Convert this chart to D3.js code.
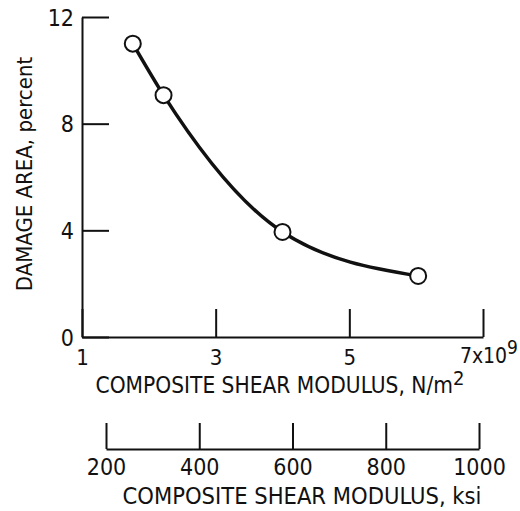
<!DOCTYPE html>
<html>
<head>
<meta charset="utf-8">
<script src="https://cdn.jsdelivr.net/npm/d3@7"></script>
<style>
  body { margin: 0; background: #fff; }
  svg { display: block; }
  text { font-family: "Liberation Sans Narrow", "DejaVu Sans Condensed", sans-serif; fill: #111; }
</style>
</head>
<body>
<div class="chart"></div>
<script>
// data
const modulus = [1.76, 2.22, 4.0, 6.03];      // composite shear modulus, 10^9 N/m^2
const damage = [11.0, 9.07, 3.94, 2.29];      // damage area, percent
const xTicks = [1, 3, 5, 7];
const yTicks = [0, 4, 8, 12];
const ksiTicks = [200, 400, 600, 800, 1000];

const data = modulus.map((m, i) => ({x: m, y: damage[i]}));

const width = 520, height = 511;
const ink = "#111";

const xScale = d3.scaleLinear().domain([1, 7]).range([82, 483]);
const yScale = d3.scaleLinear().domain([0, 12]).range([337, 17]);
const ksiScale = d3.scaleLinear().domain([200, 1000]).range([106, 479]);

const svg = d3.select(".chart").append("svg")
    .attr("width", width)
    .attr("height", height);

// y axis: ticks point into the plot
const yAxis = d3.axisRight(yScale)
    .tickValues(yTicks)
    .tickSize(27)
    .tickSizeOuter(0)
    .tickPadding(-35);
svg.append("g")
    .attr("transform", "translate(" + xScale(1) + ",0)")
    .call(yAxis)
    .call(g => g.selectAll("line, path").attr("stroke", ink).attr("stroke-width", 2))
    .call(g => g.selectAll("text").attr("text-anchor", "end").attr("font-size", 23).attr("dy", "0.36em"));

// x axis (N/m^2): ticks point up
const xAxis = d3.axisBottom(xScale)
    .tickValues(xTicks)
    .tickSize(-28)
    .tickSizeOuter(0)
    .tickFormat(d => d);
const xg = svg.append("g")
    .attr("transform", "translate(0," + yScale(0) + ")")
    .call(xAxis)
    .call(g => g.selectAll("line, path").attr("stroke", ink).attr("stroke-width", 2))
    .call(g => g.selectAll(".tick text")
        .attr("font-size", 22)
        .attr("y", 0)
        .attr("dy", "1.25em"));

// "7x10^9" on the last tick: "7x10" centred on the tick, exponent hangs right
const lastTick = xg.selectAll(".tick text").filter(d => d === 7);
lastTick.text(null).attr("text-anchor", "start").attr("font-size", 21);
const mant = lastTick.append("tspan").text("7x10");
lastTick.append("tspan").attr("dy", "-0.5em").attr("font-size", 19).text("9");
lastTick.attr("x", -mant.node().getComputedTextLength() / 2);

svg.append("text")
    .attr("x", 280)
    .attr("y", 393)
    .attr("text-anchor", "middle")
    .attr("font-size", 22.5)
    .call(t => {
      t.append("tspan").text("COMPOSITE SHEAR MODULUS, N/m");
      t.append("tspan").attr("dy", "-0.4em").attr("font-size", 20).text("2");
    });

// second axis (ksi)
const ksiAxis = d3.axisBottom(ksiScale)
    .tickValues(ksiTicks)
    .tickSize(-26)
    .tickSizeOuter(0)
    .tickFormat(d => d);
svg.append("g")
    .attr("transform", "translate(0,449)")
    .call(ksiAxis)
    .call(g => g.selectAll("line, path").attr("stroke", ink).attr("stroke-width", 2))
    .call(g => g.selectAll(".tick text")
        .attr("font-size", 23)
        .attr("y", 0)
        .attr("dy", "1.12em"));

svg.append("text")
    .attr("x", 302)
    .attr("y", 504)
    .attr("text-anchor", "middle")
    .attr("font-size", 23.5)
    .text("COMPOSITE SHEAR MODULUS, ksi");

// y axis title
svg.append("text")
    .attr("transform", "translate(32,174) rotate(-90)")
    .attr("text-anchor", "middle")
    .attr("font-size", 22)
    .text("DAMAGE AREA, percent");

// faired curve
const line = d3.line()
    .x(d => xScale(d.x))
    .y(d => yScale(d.y))
    .curve(d3.curveMonotoneX);
svg.append("path")
    .datum(data)
    .attr("fill", "none")
    .attr("stroke", ink)
    .attr("stroke-width", 3.5)
    .attr("d", line);

svg.append("g")
    .attr("fill", "white")
    .attr("stroke", ink)
    .attr("stroke-width", 2)
  .selectAll("circle")
  .data(data)
  .join("circle")
    .attr("cx", d => xScale(d.x))
    .attr("cy", d => yScale(d.y))
    .attr("r", 8);
</script>
</body>
</html>
